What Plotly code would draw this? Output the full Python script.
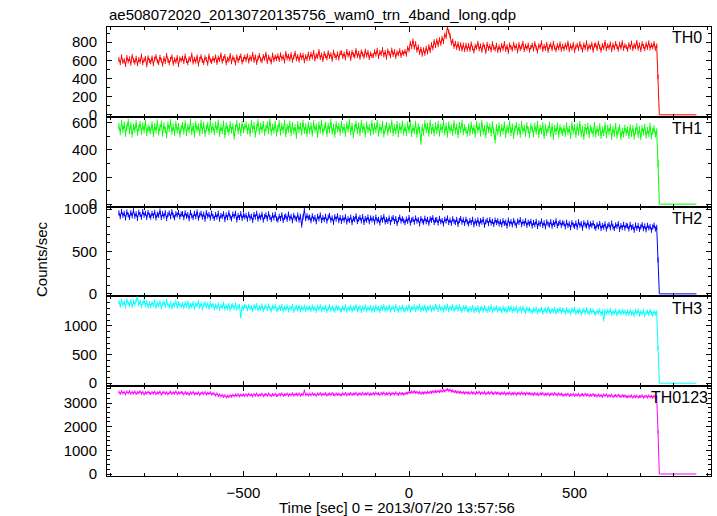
import plotly.graph_objects as go
from plotly.subplots import make_subplots

# ---------------- data ----------------
# light curves binned every 4 s starting at t = -876 s
t_start = -876
t_step = 4

th0 = [612, 571, 640, 585, 598, 552, 633, 590, 618, 566, 645, 600, 577, 625, 560, 610, 588, 650, 570, 605, 622, 548, 630, 595,
       580, 628, 560, 615, 642, 590, 572, 635, 600, 556, 620, 585, 655, 598, 570, 612, 640, 565, 608, 588, 632, 550, 618, 603,
       625, 583, 648, 596, 570, 620, 605, 660, 578, 615, 590, 638, 558, 612, 642, 595, 575, 630, 610, 565, 650, 600, 585, 622,
       598, 640, 575, 628, 605, 662, 588, 620, 645, 570, 615, 600, 655, 582, 630, 610, 568, 640, 596, 625, 650, 580, 612, 638,
       605, 650, 590, 632, 612, 668, 598, 640, 575, 628, 655, 610, 592, 645, 620, 670, 585, 635, 615, 580, 660, 603, 640, 618,
       650, 605, 662, 620, 640, 590, 678, 625, 648, 612, 665, 598, 635, 680, 615, 645, 600, 660, 628, 655, 592, 642, 618, 670,
       620, 668, 635, 690, 612, 655, 640, 700, 628, 660, 605, 675, 648, 625, 685, 640, 665, 610, 692, 650, 630, 672, 622, 680,
       685, 640, 672, 625, 700, 655, 680, 618, 690, 662, 645, 710, 650, 678, 632, 695, 668, 640, 705, 655, 688, 628, 672, 650,
       650, 695, 665, 712, 640, 688, 670, 720, 655, 690, 632, 705, 678, 648, 715, 662, 698, 640, 685, 670, 708, 652, 690, 675,
       700, 665, 735, 712, 790, 748, 815, 742, 785, 710, 748, 682, 725, 665, 718, 675, 735, 690, 752, 705, 775, 735, 808, 760,
       818, 770, 828, 785, 845, 805, 880, 860, 960, 915, 870, 790, 815, 752, 790, 738, 782, 728, 775, 720, 770, 715, 768, 722,
       765, 718, 782, 735, 700, 758, 742, 790, 725, 760, 708, 772, 748, 695, 778, 730, 755, 712, 785, 740, 722, 768, 705, 750,
       712, 765, 730, 788, 718, 752, 695, 770, 742, 722, 780, 735, 760, 702, 775, 728, 748, 790, 715, 758, 732, 770, 710, 745,
       768, 722, 785, 738, 700, 762, 745, 795, 718, 755, 730, 778, 708, 752, 772, 725, 790, 740, 715, 765, 735, 782, 720, 758,
       725, 770, 740, 792, 715, 760, 732, 778, 705, 750, 768, 728, 785, 745, 712, 772, 738, 795, 722, 758, 742, 780, 710, 765,
       772, 728, 790, 748, 710, 765, 738, 798, 725, 760, 742, 782, 715, 770, 735, 788, 750, 720, 778, 740, 795, 730, 762, 748,
       720, 775, 742, 792, 728, 765, 748, 800, 732, 770, 715, 785, 755, 725, 778, 740, 795, 735, 768, 745, 788, 730, 760, 420,
       0, 0, 0, 0, 0, 0, 0, 0, 0, 0, 0, 0, 0, 0, 0, 0, 0, 0, 0, 0, 0, 0, 0, 0, 0, 0, 0, 0, 0]

th1 = [575, 532, 598, 548, 585, 520, 568, 605, 540, 582, 515, 570, 550, 595, 528, 562, 590, 535, 578, 545, 600, 525, 565, 552,
       540, 588, 518, 572, 545, 600, 530, 565, 592, 522, 578, 548, 510, 585, 555, 602, 535, 570, 528, 590, 545, 575, 515, 560,
       582, 538, 595, 525, 568, 548, 605, 532, 575, 515, 590, 552, 570, 528, 598, 542, 585, 520, 562, 580, 535, 600, 548, 572,
       530, 585, 548, 600, 520, 565, 540, 592, 510, 578, 555, 530, 588, 545, 572, 500, 562, 595, 538, 575, 525, 590, 548, 568,
       585, 540, 570, 522, 598, 550, 580, 515, 565, 602, 535, 575, 548, 590, 528, 560, 585, 540, 608, 530, 568, 545, 590, 522,
       560, 595, 530, 575, 545, 600, 518, 568, 552, 590, 525, 580, 540, 565, 505, 588, 548, 575, 530, 598, 542, 570, 520, 585,
       540, 578, 522, 595, 550, 570, 512, 585, 545, 600, 530, 565, 582, 520, 575, 548, 605, 535, 568, 515, 590, 552, 572, 530,
       590, 545, 568, 520, 585, 552, 605, 532, 575, 510, 562, 592, 540, 578, 525, 598, 550, 570, 515, 585, 548, 565, 528, 595,
       535, 575, 548, 598, 522, 568, 545, 590, 515, 560, 582, 530, 572, 550, 600, 525, 565, 540, 588, 518, 575, 545, 592, 530,
       568, 525, 585, 545, 598, 520, 562, 540, 590, 515, 572, 548, 462, 565, 530, 595, 548, 575, 522, 600, 540, 568, 525, 580,
       540, 590, 522, 568, 548, 600, 530, 575, 515, 585, 545, 562, 528, 595, 540, 570, 512, 582, 550, 598, 532, 565, 545, 520,
       570, 528, 585, 540, 562, 515, 590, 545, 575, 522, 598, 535, 560, 510, 582, 548, 570, 525, 588, 540, 472, 565, 530, 578,
       520, 565, 538, 585, 512, 560, 545, 592, 525, 570, 505, 558, 580, 532, 568, 515, 590, 540, 562, 520, 578, 548, 510, 572,
       555, 518, 575, 535, 590, 512, 562, 540, 582, 505, 568, 528, 550, 585, 520, 572, 498, 560, 535, 578, 515, 565, 542, 525,
       560, 520, 578, 532, 552, 505, 585, 540, 565, 512, 572, 530, 590, 518, 555, 500, 568, 538, 575, 510, 560, 545, 520, 582,
       515, 555, 528, 572, 505, 548, 525, 580, 510, 560, 535, 570, 498, 552, 520, 575, 508, 545, 565, 495, 540, 515, 562, 528,
       548, 505, 565, 520, 558, 500, 540, 572, 512, 552, 495, 560, 530, 568, 508, 545, 520, 575, 502, 540, 558, 515, 535, 300,
       0, 0, 0, 0, 0, 0, 0, 0, 0, 0, 0, 0, 0, 0, 0, 0, 0, 0, 0, 0, 0, 0, 0, 0, 0, 0, 0, 0, 0]

th2 = [955, 910, 972, 925, 948, 895, 965, 930, 902, 958, 920, 980, 915, 945, 890, 962, 935, 905, 970, 928, 950, 900, 960, 925,
       905, 950, 918, 962, 895, 940, 925, 975, 900, 945, 915, 958, 888, 935, 952, 910, 968, 922, 898, 945, 930, 960, 908, 940,
       945, 898, 955, 915, 935, 885, 960, 920, 900, 948, 910, 965, 892, 930, 950, 905, 940, 880, 958, 918, 935, 895, 952, 912,
       890, 935, 905, 950, 880, 925, 912, 945, 875, 930, 898, 955, 905, 885, 940, 915, 950, 872, 925, 900, 945, 890, 930, 908,
       925, 880, 940, 895, 915, 865, 935, 905, 950, 882, 920, 898, 940, 870, 912, 930, 885, 945, 902, 875, 928, 895, 938, 885,
       870, 915, 888, 932, 865, 905, 920, 878, 940, 890, 912, 862, 925, 895, 880, 930, 870, 915, 812, 905, 985, 885, 920, 895,
       905, 862, 920, 880, 900, 850, 915, 885, 930, 865, 898, 875, 915, 858, 905, 925, 870, 895, 845, 910, 880, 920, 862, 900,
       855, 895, 870, 910, 848, 885, 865, 905, 840, 890, 875, 920, 852, 880, 900, 860, 912, 842, 888, 868, 905, 850, 895, 872,
       890, 845, 905, 860, 880, 835, 898, 870, 912, 848, 875, 855, 895, 840, 882, 900, 852, 888, 830, 875, 905, 858, 885, 862,
       840, 882, 855, 900, 835, 870, 880, 845, 895, 858, 875, 825, 888, 862, 845, 892, 850, 878, 832, 885, 868, 898, 842, 870,
       875, 835, 890, 850, 865, 825, 880, 858, 895, 840, 870, 832, 885, 855, 840, 878, 820, 865, 888, 845, 872, 830, 880, 848,
       825, 865, 840, 880, 815, 858, 832, 872, 820, 862, 845, 878, 810, 850, 868, 828, 875, 835, 855, 818, 870, 840, 862, 825,
       850, 815, 862, 830, 845, 800, 870, 825, 852, 812, 865, 835, 805, 858, 842, 875, 818, 848, 830, 862, 808, 845, 825, 855,
       800, 842, 815, 855, 795, 835, 820, 860, 805, 838, 790, 848, 825, 810, 852, 798, 840, 818, 862, 802, 830, 845, 808, 838,
       830, 790, 845, 805, 825, 780, 840, 812, 795, 835, 785, 850, 808, 828, 775, 838, 815, 800, 842, 788, 825, 805, 835, 795,
       775, 815, 790, 830, 770, 808, 785, 825, 765, 800, 818, 780, 835, 790, 770, 812, 795, 828, 760, 805, 782, 820, 775, 810,
       800, 765, 818, 780, 795, 750, 812, 772, 805, 760, 790, 815, 768, 800, 755, 808, 778, 795, 750, 790, 810, 765, 785, 400,
       0, 0, 0, 0, 0, 0, 0, 0, 0, 0, 0, 0, 0, 0, 0, 0, 0, 0, 0, 0, 0, 0, 0, 0, 0, 0, 0, 0, 0]

th3 = [1420, 1352, 1438, 1375, 1410, 1340, 1445, 1388, 1365, 1430, 1348, 1415, 1380, 1440, 1505, 1370, 1425, 1345, 1400, 1435, 1360, 1415, 1338, 1395,
       1345, 1400, 1362, 1425, 1330, 1392, 1358, 1415, 1325, 1380, 1410, 1348, 1435, 1365, 1340, 1398, 1322, 1385, 1360, 1420, 1335, 1395, 1370, 1340,
       1380, 1325, 1395, 1348, 1410, 1320, 1368, 1340, 1400, 1312, 1375, 1355, 1418, 1330, 1385, 1305, 1362, 1395, 1335, 1378, 1315, 1390, 1345, 1372,
       1305, 1355, 1320, 1375, 1295, 1348, 1330, 1385, 1300, 1345, 1312, 1368, 1290, 1340, 1362, 1308, 1375, 1298, 1335, 1350, 1160, 1330, 1302, 1348,
       1335, 1290, 1350, 1305, 1328, 1275, 1345, 1315, 1360, 1285, 1322, 1300, 1352, 1278, 1318, 1340, 1292, 1355, 1305, 1270, 1335, 1310, 1345, 1288,
       1280, 1325, 1295, 1345, 1268, 1315, 1290, 1338, 1272, 1320, 1300, 1350, 1262, 1310, 1330, 1285, 1342, 1270, 1318, 1295, 1335, 1275, 1322, 1298,
       1320, 1278, 1338, 1290, 1312, 1262, 1335, 1295, 1345, 1270, 1318, 1285, 1330, 1258, 1305, 1342, 1280, 1325, 1292, 1265, 1335, 1300, 1318, 1275,
       1272, 1318, 1285, 1340, 1262, 1310, 1290, 1332, 1268, 1315, 1298, 1345, 1275, 1305, 1328, 1260, 1320, 1285, 1338, 1270, 1312, 1292, 1330, 1265,
       1318, 1275, 1335, 1290, 1310, 1258, 1330, 1298, 1345, 1272, 1315, 1285, 1338, 1265, 1305, 1325, 1278, 1342, 1295, 1262, 1320, 1290, 1335, 1280,
       1270, 1320, 1288, 1345, 1265, 1312, 1295, 1340, 1278, 1325, 1305, 1352, 1272, 1318, 1290, 1338, 1262, 1315, 1298, 1335, 1275, 1322, 1290, 1345,
       1322, 1278, 1340, 1295, 1315, 1265, 1338, 1288, 1350, 1275, 1320, 1300, 1345, 1270, 1312, 1330, 1282, 1340, 1295, 1262, 1325, 1290, 1335, 1278,
       1262, 1308, 1280, 1330, 1255, 1300, 1275, 1322, 1248, 1295, 1318, 1268, 1325, 1285, 1262, 1310, 1278, 1335, 1258, 1302, 1288, 1320, 1265, 1298,
       1298, 1255, 1318, 1270, 1292, 1245, 1315, 1280, 1325, 1258, 1300, 1272, 1320, 1250, 1288, 1308, 1262, 1318, 1275, 1245, 1305, 1268, 1295, 1260,
       1240, 1285, 1258, 1305, 1235, 1278, 1262, 1300, 1228, 1272, 1290, 1245, 1308, 1260, 1238, 1285, 1252, 1298, 1232, 1275, 1262, 1295, 1240, 1280,
       1270, 1228, 1288, 1245, 1265, 1218, 1285, 1250, 1295, 1225, 1262, 1240, 1282, 1215, 1258, 1278, 1232, 1290, 1245, 1220, 1275, 1238, 1268, 1230,
       1212, 1258, 1228, 1275, 1205, 1250, 1115, 1260, 1218, 1262, 1232, 1280, 1208, 1245, 1225, 1268, 1200, 1240, 1255, 1215, 1265, 1228, 1250, 1210,
       1245, 1205, 1262, 1218, 1240, 1195, 1258, 1225, 1268, 1200, 1238, 1215, 1255, 1192, 1232, 1250, 1208, 1262, 1220, 1198, 1245, 1212, 1235, 620,
       0, 0, 0, 0, 0, 0, 0, 0, 0, 0, 0, 0, 0, 0, 0, 0, 0, 0, 0, 0, 0, 0, 0, 0, 0, 0, 0, 0, 0]

th0123 = [3470, 3400, 3495, 3420, 3455, 3380, 3480, 3425, 3500, 3395, 3460, 3415, 3485, 3390, 3450, 3430, 3490, 3405, 3465, 3375, 3445, 3410, 3475, 3420,
          3395, 3455, 3410, 3480, 3385, 3440, 3420, 3475, 3370, 3430, 3465, 3400, 3450, 3380, 3435, 3470, 3395, 3445, 3410, 3485, 3390, 3440, 3415, 3460,
          3430, 3375, 3450, 3395, 3420, 3360, 3445, 3400, 3465, 3380, 3415, 3390, 3440, 3355, 3410, 3435, 3385, 3455, 3370, 3420, 3395, 3440, 3365, 3410,
          3380, 3330, 3395, 3310, 3355, 3290, 3340, 3270, 3320, 3250, 3300, 3265, 3315, 3280, 3340, 3300, 3350, 3310, 3365, 3295, 3345, 3320, 3360, 3305,
          3365, 3310, 3380, 3330, 3355, 3295, 3375, 3325, 3390, 3305, 3350, 3335, 3385, 3300, 3345, 3370, 3320, 3395, 3340, 3310, 3365, 3330, 3380, 3315,
          3325, 3375, 3340, 3395, 3315, 3360, 3345, 3390, 3320, 3370, 3335, 3400, 3330, 3365, 3385, 3340, 3395, 3325, 3370, 3350, 3520, 3345, 3380, 3330,
          3385, 3335, 3400, 3350, 3375, 3320, 3395, 3355, 3410, 3340, 3380, 3360, 3405, 3330, 3370, 3390, 3345, 3415, 3360, 3335, 3395, 3350, 3385, 3340,
          3345, 3395, 3360, 3415, 3340, 3385, 3365, 3410, 3350, 3390, 3375, 3420, 3345, 3380, 3400, 3355, 3425, 3360, 3395, 3370, 3415, 3350, 3390, 3365,
          3410, 3365, 3425, 3380, 3400, 3350, 3420, 3385, 3435, 3360, 3405, 3375, 3430, 3355, 3395, 3415, 3370, 3440, 3385, 3360, 3420, 3380, 3410, 3370,
          3395, 3430, 3410, 3465, 3435, 3480, 3445, 3490, 3440, 3470, 3420, 3455, 3405, 3440, 3415, 3450, 3420, 3465, 3430, 3475, 3445, 3490, 3460, 3500,
          3470, 3510, 3475, 3520, 3490, 3540, 3505, 3550, 3580, 3530, 3555, 3500, 3520, 3470, 3495, 3450, 3480, 3440, 3470, 3425, 3460, 3415, 3450, 3420,
          3445, 3400, 3460, 3415, 3440, 3385, 3455, 3420, 3470, 3395, 3435, 3410, 3460, 3385, 3425, 3445, 3400, 3465, 3420, 3390, 3445, 3405, 3435, 3395,
          3380, 3425, 3395, 3440, 3370, 3415, 3390, 3435, 3365, 3410, 3385, 3430, 3360, 3405, 3420, 3375, 3440, 3385, 3410, 3365, 3425, 3390, 3415, 3370,
          3395, 3355, 3410, 3365, 3390, 3340, 3405, 3370, 3420, 3345, 3385, 3360, 3400, 3335, 3375, 3395, 3350, 3415, 3365, 3340, 3395, 3355, 3385, 3345,
          3325, 3370, 3340, 3385, 3315, 3360, 3335, 3380, 3310, 3355, 3330, 3375, 3305, 3350, 3365, 3320, 3385, 3330, 3360, 3300, 3345, 3320, 3370, 3315,
          3335, 3290, 3350, 3300, 3325, 3275, 3345, 3305, 3360, 3280, 3320, 3295, 3340, 3265, 3305, 3325, 3280, 3340, 3295, 3270, 3320, 3285, 3310, 3270,
          3255, 3300, 3265, 3310, 3245, 3290, 3260, 3305, 3240, 3285, 3270, 3315, 3235, 3280, 3295, 3250, 3305, 3260, 3285, 3240, 3290, 3255, 3275, 1780,
          0, 0, 0, 0, 0, 0, 0, 0, 0, 0, 0, 0, 0, 0, 0, 0, 0, 0, 0, 0, 0, 0, 0, 0, 0, 0, 0, 0, 0]

# typical 1-sigma error of an on-source bin in each band (counts/sec)
series_errors = [25, 24, 30, 37, 58]

series_names = ["TH0", "TH1", "TH2", "TH3", "TH0123"]
series_values = [th0, th1, th2, th3, th0123]
series_colors = ["#ff0000", "#00ff00", "#0000ff", "#00ffff", "#ff00ff"]
y_ranges = [[-22, 967], [-18, 644], [-30, 1029], [-52, 1514], [-84, 3713]]
y_tickvals = [[0, 200, 400, 600, 800], [0, 200, 400, 600], [0, 500, 1000],
              [0, 500, 1000], [0, 1000, 2000, 3000]]
y_minor = [100, 100, 100, 100, 200]
x_range = [-912, 912]

title_text = "ae508072020_20130720135756_wam0_trn_4band_long.qdp"
x_title = "Time [sec] 0 = 2013/07/20 13:57:56"
y_title = "Counts/sec"

# ---------------- figure ----------------
FONT = "Liberation Sans, Arial, Helvetica, sans-serif"
fig = make_subplots(rows=5, cols=1, shared_xaxes=True, vertical_spacing=0)

for i, (name, vals, col, err) in enumerate(zip(series_names, series_values,
                                               series_colors, series_errors)):
    times = [t_start + t_step * k for k in range(len(vals))]
    errs = [err if v > 0 else 0 for v in vals]
    fig.add_trace(go.Scatter(x=times, y=vals, mode="lines",
                             line=dict(color=col, width=1), name=name,
                             error_y=dict(type="data", array=errs, visible=True,
                                          width=0, thickness=1, color=col),
                             showlegend=False), row=i + 1, col=1)

axis_common = dict(showline=True, linecolor="black", linewidth=1, mirror="allticks",
                   ticks="inside", ticklen=5, tickwidth=1, tickcolor="black",
                   showgrid=False, zeroline=False,
                   tickfont=dict(family=FONT, size=15, color="black"))

for i in range(5):
    fig.update_yaxes(range=y_ranges[i], tickmode="array", tickvals=y_tickvals[i],
                     minor=dict(tickmode="linear", tick0=0, dtick=y_minor[i],
                                ticks="inside", ticklen=3, tickcolor="black"),
                     ticklabelstandoff=6,
                     row=i + 1, col=1, **axis_common)
    fig.update_xaxes(range=x_range, tickmode="linear", tick0=0, dtick=500,
                     minor=dict(tickmode="linear", tick0=0, dtick=100,
                                ticks="inside", ticklen=3, tickcolor="black"),
                     ticklabelstandoff=3,
                     row=i + 1, col=1, **axis_common)

# plot area in page pixels: x 107..711, y 27..476
PX_L, PX_R, PX_T, PX_B = 107, 711, 27, 476


def px_x(px):
    return (px - PX_L) / (PX_R - PX_L)


def px_y(py):
    return (PX_B - py) / (PX_B - PX_T)


label_pos_px = [(704, 37), (704, 128), (704, 218), (704, 308), (710, 397)]
annotations = []
for name, (xpx, ypx) in zip(series_names, label_pos_px):
    annotations.append(dict(text=name, xref="paper", yref="paper",
                            x=px_x(xpx), y=px_y(ypx),
                            xanchor="right", yanchor="middle", showarrow=False,
                            font=dict(family=FONT, size=16, color="black")))
annotations.append(dict(text=title_text, xref="paper", yref="paper",
                        x=0, y=px_y(14), xanchor="left", yanchor="middle",
                        showarrow=False, font=dict(family=FONT, size=15, color="black")))
annotations.append(dict(text=x_title, xref="paper", yref="paper",
                        x=px_x(397), y=px_y(507),
                        xanchor="center", yanchor="middle", showarrow=False,
                        font=dict(family=FONT, size=15, color="black")))
annotations.append(dict(text=y_title, xref="paper", yref="paper",
                        x=px_x(41), y=px_y(259), textangle=-90,
                        xanchor="center", yanchor="middle", showarrow=False,
                        font=dict(family=FONT, size=15, color="black")))

fig.update_layout(width=717, height=516,
                  margin=dict(l=PX_L, r=717 - PX_R, t=PX_T, b=516 - PX_B),
                  plot_bgcolor="white", paper_bgcolor="white",
                  annotations=annotations, showlegend=False,
                  font=dict(family=FONT, color="black"))

fig.write_html("out.html", config={"displayModeBar": False},
               post_script="document.body.style.margin='0px';document.body.style.overflow='hidden';")
